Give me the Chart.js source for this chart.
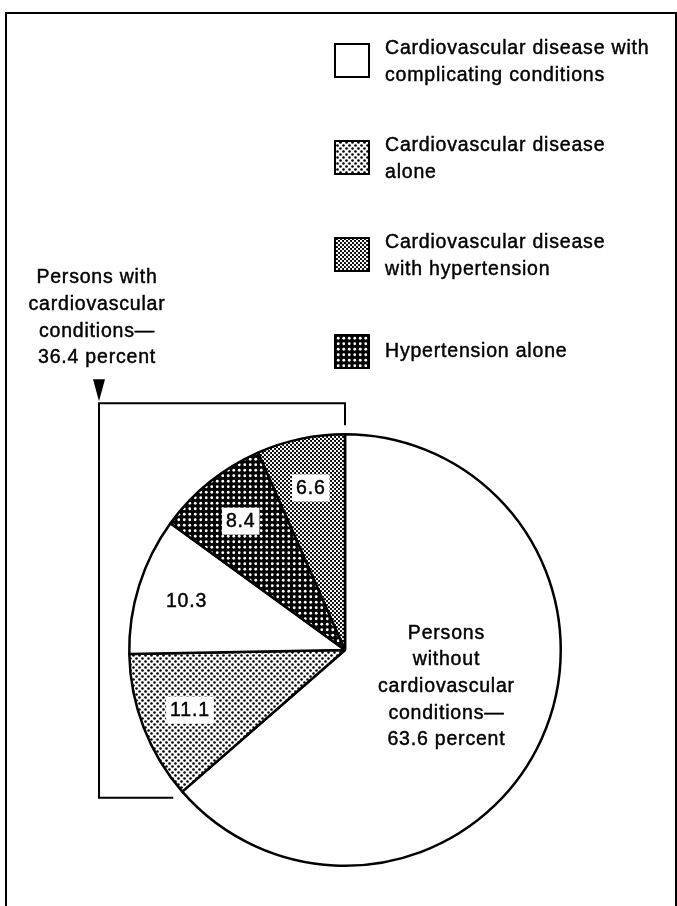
<!DOCTYPE html>
<html>
<head>
<meta charset="utf-8">
<script src="https://cdn.jsdelivr.net/npm/chart.js@4.4.0/dist/chart.umd.min.js"></script>
<style>
  html, body { margin: 0; padding: 0; background: #fff; }
  canvas { display: block; }
</style>
</head>
<body>
<canvas id="chart" width="677" height="906"></canvas>
<script>
// slices go clockwise from 12 o'clock
const sliceNames = [
  `Persons without cardiovascular conditions`,
  `Cardiovascular disease alone`,
  `Cardiovascular disease with complicating conditions`,
  `Hypertension alone`,
  `Cardiovascular disease with hypertension`
];
const sliceValues = [63.6, 11.1, 10.3, 8.4, 6.6];
const slicePatterns = [`white`, `lightDots`, `white`, `darkDots`, `denseDots`];

// legend top to bottom: which slice + the wrapped text
const legendOrder = [2, 1, 4, 3];
const legendLines = [
  [`Cardiovascular disease with`, `complicating conditions`],
  [`Cardiovascular disease`, `alone`],
  [`Cardiovascular disease`, `with hypertension`],
  [`Hypertension alone`]
];

const withoutLines = [`Persons`, `without`, `cardiovascular`, `conditions—`];
const withLines = [`Persons with`, `cardiovascular`, `conditions—`];

const FONT = `19.5px "Liberation Sans", Arial, Helvetica, sans-serif`;
const LINE_HEIGHT = 26.6;

const makePattern = (type) => {
  if (type === `white`) {
    return `#ffffff`;
  }
  const tile = document.createElement(`canvas`);
  const ctx = tile.getContext(`2d`);
  const dot = (x, y, r, color) => {
    ctx.fillStyle = color;
    ctx.beginPath();
    ctx.arc(x, y, r, 0, Math.PI * 2);
    ctx.fill();
  };

  if (type === `lightDots`) {
    tile.width = tile.height = 6;
    ctx.fillStyle = `#fff`;
    ctx.fillRect(0, 0, 6, 6);
    dot(1.5, 1.5, 1.3, `#000`);
    dot(4.5, 4.5, 1.3, `#000`);
  } else if (type === `denseDots`) {
    tile.width = tile.height = 4;
    ctx.fillStyle = `#000`;
    ctx.fillRect(0, 0, 4, 4);
    dot(1, 1, 1.2, `#fff`);
    dot(3, 3, 1.2, `#fff`);
  } else {
    tile.width = tile.height = 11;
    ctx.fillStyle = `#000`;
    ctx.fillRect(0, 0, 11, 11);
    [2.75, 8.25].forEach((x) => {
      [2.75, 8.25].forEach((y) => dot(x, y, 1.4, `#fff`));
    });
  }
  return ctx.createPattern(tile, `repeat`);
};

const fills = slicePatterns.map(makePattern);

// scanned print looks a bit heavy, so stroke the glyphs thinly too
const drawText = (ctx, text, x, y) => {
  ctx.fillText(text, x, y);
  ctx.strokeText(text, x, y);
};

const drawLines = (ctx, lines, x, y) => {
  lines.forEach((line, i) => drawText(ctx, line, x, y + i * LINE_HEIGHT));
};

const annotationPlugin = {
  id: `annotations`,
  afterDatasetsDraw(chart) {
    const ctx = chart.ctx;
    const arcs = chart.getDatasetMeta(0).data;
    const big = arcs[0];
    const R = big.outerRadius;
    const cx = big.x;
    const cy = big.y;

    ctx.save();
    ctx.font = FONT;
    ctx.letterSpacing = `0.8px`;
    ctx.textBaseline = `middle`;
    ctx.textAlign = `center`;
    ctx.strokeStyle = `#000`;
    ctx.lineWidth = 0.45;

    // numbers in the small slices
    arcs.forEach((arc, i) => {
      if (i === 0) {
        return;
      }
      const mid = (arc.startAngle + arc.endAngle) / 2;
      const x = cx + Math.cos(mid) * R * 0.77;
      const y = cy + Math.sin(mid) * R * 0.77;
      const text = sliceValues[i].toFixed(1);
      if (slicePatterns[i] !== `white`) {
        const w = ctx.measureText(text).width;
        ctx.fillStyle = `#fff`;
        ctx.fillRect(x - w / 2 - 4, y - 13, w + 8, 27);
      }
      ctx.fillStyle = `#000`;
      drawText(ctx, text, x, y + 1);
    });

    // label of the big slice
    const midBig = (big.startAngle + big.endAngle) / 2 - 0.08;
    const bx = cx + Math.cos(midBig) * R * 0.5;
    const by = cy + Math.sin(midBig) * R * 0.5;
    const bigLines = [...withoutLines, `${sliceValues[0].toFixed(1)} percent`];
    drawLines(ctx, bigLines, bx, by - (bigLines.length - 1) / 2 * LINE_HEIGHT);

    // the other side: sum of the small slices
    const withTotal = sliceValues.slice(1).reduce((a, b) => a + b, 0);
    drawLines(ctx, [...withLines, `${withTotal.toFixed(1)} percent`], 97, 278);

    // legend
    ctx.textAlign = `left`;
    legendOrder.forEach((idx, i) => {
      const top = 43 + i * 97;
      ctx.fillStyle = fills[idx];
      ctx.fillRect(334, top, 36, 35);
      ctx.save();
      ctx.lineWidth = 2;
      ctx.strokeRect(335, top + 1, 34, 33);
      ctx.restore();
      ctx.fillStyle = `#000`;
      const lines = legendLines[i];
      const first = lines.length === 1 ? top + 18 : top + 6;
      drawLines(ctx, lines, 385, first);
    });

    // bracket round the cardiovascular slices
    const endA = big.endAngle;
    const ex = cx + Math.cos(endA) * R;
    const ey = cy + Math.sin(endA) * R;
    const topY = cy - R - 31;
    ctx.lineWidth = 2;
    ctx.beginPath();
    ctx.moveTo(cx, cy - R - 9);
    ctx.lineTo(cx, topY);
    ctx.lineTo(99, topY);
    ctx.lineTo(99, ey + 6);
    ctx.lineTo(ex - 9, ey + 6);
    ctx.stroke();

    // arrow head
    ctx.fillStyle = `#000`;
    ctx.beginPath();
    ctx.moveTo(93, topY - 24);
    ctx.lineTo(105, topY - 24);
    ctx.lineTo(99, topY - 2);
    ctx.closePath();
    ctx.fill();

    // frame
    ctx.beginPath();
    ctx.moveTo(6, 906);
    ctx.lineTo(6, 13);
    ctx.lineTo(676, 13);
    ctx.lineTo(676, 906);
    ctx.stroke();

    ctx.restore();
  }
};

new Chart(document.getElementById(`chart`), {
  type: `pie`,
  data: {
    labels: sliceNames,
    datasets: [{
      data: sliceValues,
      backgroundColor: fills,
      borderColor: `#000`,
      borderWidth: 2.5,
      hoverOffset: 0
    }]
  },
  options: {
    responsive: false,
    animation: false,
    events: [],
    layout: {
      padding: {left: 128, right: 115, top: 433, bottom: 39}
    },
    plugins: {
      legend: {display: false},
      tooltip: {enabled: false}
    }
  },
  plugins: [annotationPlugin]
});
</script>
</body>
</html>
